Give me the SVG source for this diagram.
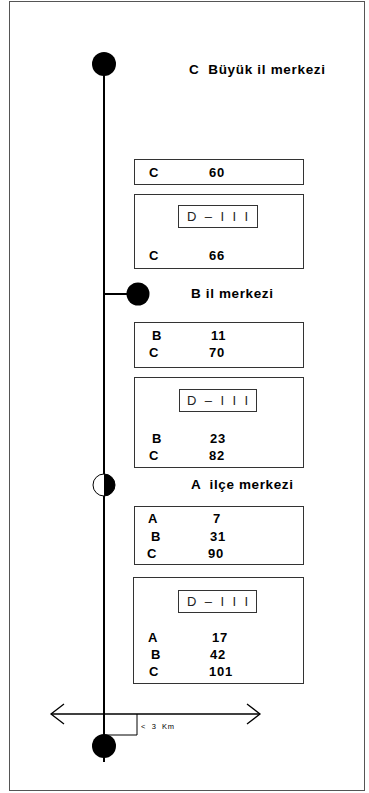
<svg xmlns="http://www.w3.org/2000/svg" width="369" height="793" viewBox="0 0 369 793" xml:space="preserve">
<style>
.frame{fill:#fff;stroke:#555;stroke-width:1}
.box{fill:#fff;stroke:#333;stroke-width:1}
.inner{fill:#fff;stroke:#333;stroke-width:1}
.main{stroke:#000;stroke-width:2;fill:none}
.thin{stroke:#000;stroke-width:1.3;fill:none}
text{white-space:pre}
.t{font-family:"Liberation Sans",Arial,sans-serif;font-weight:bold;font-size:13px;fill:#000;letter-spacing:0.8px}
.title{font-family:"Liberation Sans",Arial,sans-serif;font-weight:bold;font-size:13.5px;fill:#000}
.d{font-family:"Liberation Sans",Arial,sans-serif;font-size:13px;fill:#222}
.km{font-family:"Liberation Sans",Arial,sans-serif;font-size:7.5px;fill:#000}
</style>
<rect class="frame" x="9.5" y="1.5" width="355" height="789"/>
<g id="connectors">
<line class="main" x1="104" y1="64" x2="104" y2="762"/>
<line class="main" x1="104" y1="294" x2="138" y2="294"/>
<line class="thin" x1="51" y1="714" x2="260" y2="714"/>
<polyline class="thin" points="64,704 51,714 64,724"/>
<polyline class="thin" points="247,704 260,714 247,724"/>
<polyline fill="none" stroke="#000" stroke-width="1" points="137,714 137,735 104,735"/>
<text class="km" x="141" y="729" textLength="33" lengthAdjust="spacing">&lt;  3  Km</text>
</g>
<g id="node-c">
<circle cx="104" cy="64" r="12" fill="#000"/>
<text class="title" x="189" y="74" textLength="136" lengthAdjust="spacing">C  Büyük il merkezi</text>
</g>
<g id="node-b">
<circle cx="138" cy="294" r="11.5" fill="#000"/>
<text class="title" x="191" y="298" textLength="82" lengthAdjust="spacing">B il merkezi</text>
</g>
<g id="node-a">
<circle cx="104" cy="485" r="11" fill="#fff" stroke="#000" stroke-width="1"/>
<path d="M104,474 A11,11 0 0 1 104,496 Z" fill="#000"/>
<text class="title" x="191" y="489" textLength="102" lengthAdjust="spacing">A  ilçe merkezi</text>
</g>
<g id="node-end">
<circle cx="104" cy="746" r="12" fill="#000"/>
</g>
<g id="box1">
<rect class="box" x="134.5" y="159.5" width="169" height="25"/>
<text class="t" x="149" y="177">C</text>
<text class="t" x="209" y="177">60</text>
</g>
<g id="box2">
<rect class="box" x="134.5" y="194.5" width="169" height="74"/>
<rect class="inner" x="178.5" y="205.5" width="79" height="22"/>
<text class="d" x="187" y="221" textLength="61" lengthAdjust="spacing">D – I I I</text>
<text class="t" x="149" y="260">C</text>
<text class="t" x="209" y="260">66</text>
</g>
<g id="box3">
<rect class="box" x="134.5" y="322.5" width="169" height="45"/>
<text class="t" x="152" y="340">B</text>
<text class="t" x="211" y="340">11</text>
<text class="t" x="149" y="357">C</text>
<text class="t" x="209" y="357">70</text>
</g>
<g id="box4">
<rect class="box" x="134.5" y="377.5" width="169" height="90"/>
<rect class="inner" x="179.5" y="389.5" width="77" height="22"/>
<text class="d" x="187" y="405" textLength="61" lengthAdjust="spacing">D – I I I</text>
<text class="t" x="152" y="443">B</text>
<text class="t" x="210" y="443">23</text>
<text class="t" x="149" y="460">C</text>
<text class="t" x="209" y="460">82</text>
</g>
<g id="box5">
<rect class="box" x="134.5" y="506.5" width="169" height="58"/>
<text class="t" x="148" y="523">A</text>
<text class="t" x="213" y="523">7</text>
<text class="t" x="151" y="541">B</text>
<text class="t" x="210" y="541">31</text>
<text class="t" x="147" y="558">C</text>
<text class="t" x="208" y="558">90</text>
</g>
<g id="box6">
<rect class="box" x="133.5" y="577.5" width="170" height="106"/>
<rect class="inner" x="178.5" y="590.5" width="78" height="22"/>
<text class="d" x="187" y="606" textLength="61" lengthAdjust="spacing">D – I I I</text>
<text class="t" x="148" y="642">A</text>
<text class="t" x="212" y="642">17</text>
<text class="t" x="151" y="659">B</text>
<text class="t" x="210" y="659">42</text>
<text class="t" x="149" y="676">C</text>
<text class="t" x="209" y="676">101</text>
</g>
</svg>
